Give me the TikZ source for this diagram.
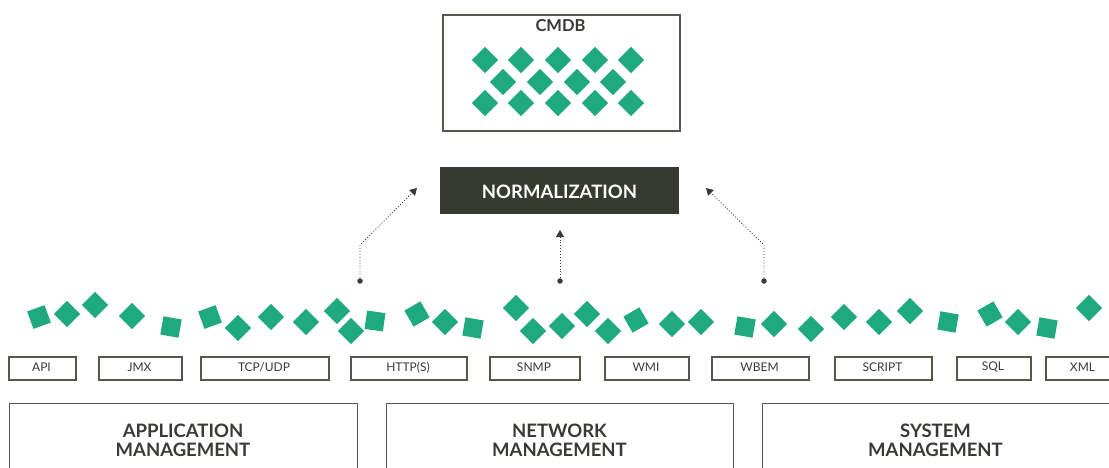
\documentclass[tikz,border=0pt]{standalone}
\usepackage{fontspec}
\setmainfont{Lato}
\usetikzlibrary{arrows.meta}
\definecolor{gr}{HTML}{1FA97F}
\definecolor{dk}{HTML}{363B30}
\definecolor{bd}{HTML}{55574F}
\definecolor{tx}{HTML}{3A3A36}
\tikzset{
  sq/.style={fill=gr, draw=none, minimum size=18.5pt, inner sep=0pt, outer sep=0pt},
  proto/.style={draw=bd, line width=1.7pt, inner sep=0pt},
  ptxt/.style={text=tx, font=\fontsize{12}{13}\selectfont},
  mgmt/.style={draw=bd, line width=1.2pt, inner sep=0pt},
  mtxt/.style={text=tx, font=\fontsize{18.5}{19.5}\selectfont\bfseries, align=center},
  conn/.style={draw=tx, line width=0.9pt, dotted, -{Triangle[length=7pt,width=8pt]}},
  dotend/.style={circle, fill=tx, minimum size=5.5pt, inner sep=0pt}
}
\begin{document}
\begin{tikzpicture}[x=1pt,y=-1pt]
\useasboundingbox (0,0) rectangle (1109,467);
\fill[white] (0,0) rectangle (1109,467);

% CMDB
\node[draw=bd, line width=1.6pt, minimum width=237pt, minimum height=116pt, inner sep=0pt, anchor=north west] (cmdb) at (442,14) {};
\node[text=tx, font=\fontsize{16.5}{17}\selectfont\bfseries] (cmdbt) at (560.5,26) {CMDB};
\foreach \x [count=\i] in {485,521,558,595,631} {
  \node[sq, rotate=45] (ca\i) at (\x,60) {};
  \node[sq, rotate=45] (cc\i) at (\x,103) {};
}
\foreach \x [count=\i] in {503,540,577,613} {
  \node[sq, rotate=45] (cb\i) at (\x,82) {};
}

% Normalization
\node[fill=dk, minimum width=239pt, minimum height=47pt, inner sep=0pt, anchor=north west] (norm) at (440,167) {};
\node[text=white, font=\fontsize{18.5}{19}\selectfont\bfseries] (normt) at (559.5,192) {NORMALIZATION};

% connectors
\node[dotend] (dl) at (360,281) {};
\node[dotend] (dm) at (560,281) {};
\node[dotend] (dr) at (764,281) {};
\coordinate (l1) at (360,245);
\coordinate (l2) at (417,188);
\coordinate (m2) at (560,230);
\coordinate (r1) at (764,245);
\coordinate (r2) at (706,188);
\draw[conn] (dl.center) -- (l1) -- (l2);
\draw[conn] (dm.center) -- (m2);
\draw[conn] (dr.center) -- (r1) -- (r2);

% scattered squares
\foreach \x/\y/\r [count=\i] in {
  39/317/20, 67/314/45, 95/305/45, 132/316/45, 171/327/-10,
  210/317/20, 238/328/45, 271/317/45, 306/322/45, 337/311/45,
  351/331/45, 375/321/-8, 417/314/30, 445/322/45, 473/328/-10,
  516/308/45, 533/331/45, 562/326/45, 587/314/45, 608/331/45,
  636/320/30, 672/324/45, 701/322/45, 745/327/-10, 774/324/45,
  811/329/45, 844/317/45, 879/322/45, 910/311/45, 948/322/-10,
  990/314/30, 1018/322/45, 1047/328/-10, 1089/308/45} {
  \node[sq, rotate=\r] (s\i) at (\x,\y) {};
}

% protocol boxes
\foreach \a/\b/\t/\n in {8/75/API/api, 98/181/JMX/jmx, 200/328/TCP\slash UDP/tcp, 350/466/HTTP(S)/http,
  489/579/SNMP/snmp, 604/688/WMI/wmi, 711/808/WBEM/wbem, 834/931/SCRIPT/script,
  956/1030/SQL/sql, 1045/1120/XML/xml} {
  \node[proto, minimum width={\b-\a}, minimum height=23pt, anchor=north west] (\n) at (\a,356) {};
  \node[ptxt] (\n t) at ({(\a+\b)/2},367.5) {\t};
}

% management boxes
\node[mgmt, minimum width=348pt, minimum height=80pt, anchor=north west] (app) at (9,403) {};
\node[mgmt, minimum width=347pt, minimum height=80pt, anchor=north west] (net) at (386,403) {};
\node[mgmt, minimum width=360pt, minimum height=80pt, anchor=north west] (sys) at (762,403) {};
\node[mtxt] (appt) at (183,440.5) {APPLICATION\\MANAGEMENT};
\node[mtxt] (nett) at (559.5,440.5) {NETWORK\\MANAGEMENT};
\node[mtxt] (syst) at (935.5,440.5) {SYSTEM\\MANAGEMENT};
\end{tikzpicture}
\end{document}
